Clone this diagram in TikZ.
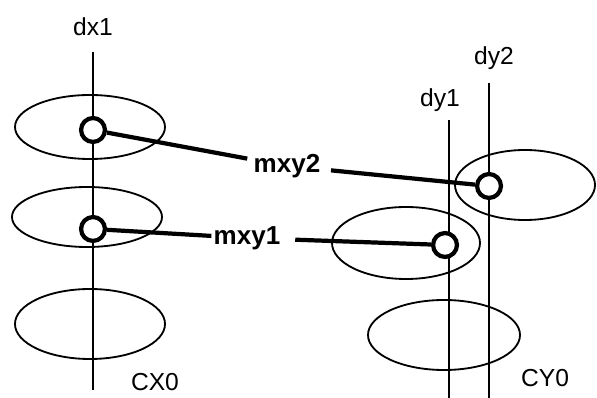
\documentclass[tikz,border=0pt]{standalone}
\usepackage{fontspec}
\setmainfont{Liberation Sans}
\begin{document}
\begin{tikzpicture}[x=0.025cm, y=-0.025cm, line width=1.3pt,
		every node/.style={font=\fontsize{17.5}{20}\selectfont},
		lbl/.style={font=\fontsize{18.5}{20}\selectfont\bfseries, inner sep=1pt},
		joint/.style={circle, draw, line width=3pt, fill=white, minimum size=17pt, inner sep=0pt},
		conn/.style={line width=3pt}]
	\useasboundingbox (0,0) rectangle (597,398);
	% 1. 椭圆 (最底层)
	\draw (90,127) ellipse (75 and 32);
	\draw (87,217) ellipse (75 and 30);
	\draw (90,324) ellipse (75 and 35);
	\draw (525,185) ellipse (70 and 35);
	\draw (406,243) ellipse (74 and 36);
	\draw (444,335) ellipse (76 and 35);
	
	% 2. 竖线与标号
	\node (dx1) at (93,27) {dx1};
	\node (dy1) at (440,100) {dy1};
	\node (dy2) at (494,58) {dy2};
	\coordinate (dx1top) at (93,52);   \coordinate (dx1bot) at (93,390);
	\coordinate (dy1top) at (449,120); \coordinate (dy1bot) at (449,398);
	\coordinate (dy2top) at (489,83);  \coordinate (dy2bot) at (489,398);
	\draw (dx1top) -- (dx1bot);
	\draw (dy1top) -- (dy1bot);
	\draw (dy2top) -- (dy2bot);
	\node (cx0) at (155,382) {CX0};
	\node (cy0) at (545,378) {CY0};
	
	% 3. 连接点
	\node[joint] (jx2) at (93,130) {};
	\node[joint] (jx1) at (93,229) {};
	\node[joint] (jy2) at (489,186) {};
	\node[joint] (jy1) at (445,245) {};
	
	% 4. 连线与标签
	\node[lbl] (mxy2) at (287,166) {mxy2};
	\node[lbl] (mxy1) at (247,238) {mxy1};
	\draw[conn, shorten >=3pt] (jx2) -- (mxy2);
	\draw[conn, shorten <=6pt] (mxy2) -- (jy2);
	\draw[conn] (jx1) -- (mxy1);
	\draw[conn, shorten <=9pt] (mxy1) -- (jy1);
\end{tikzpicture}
\end{document}
